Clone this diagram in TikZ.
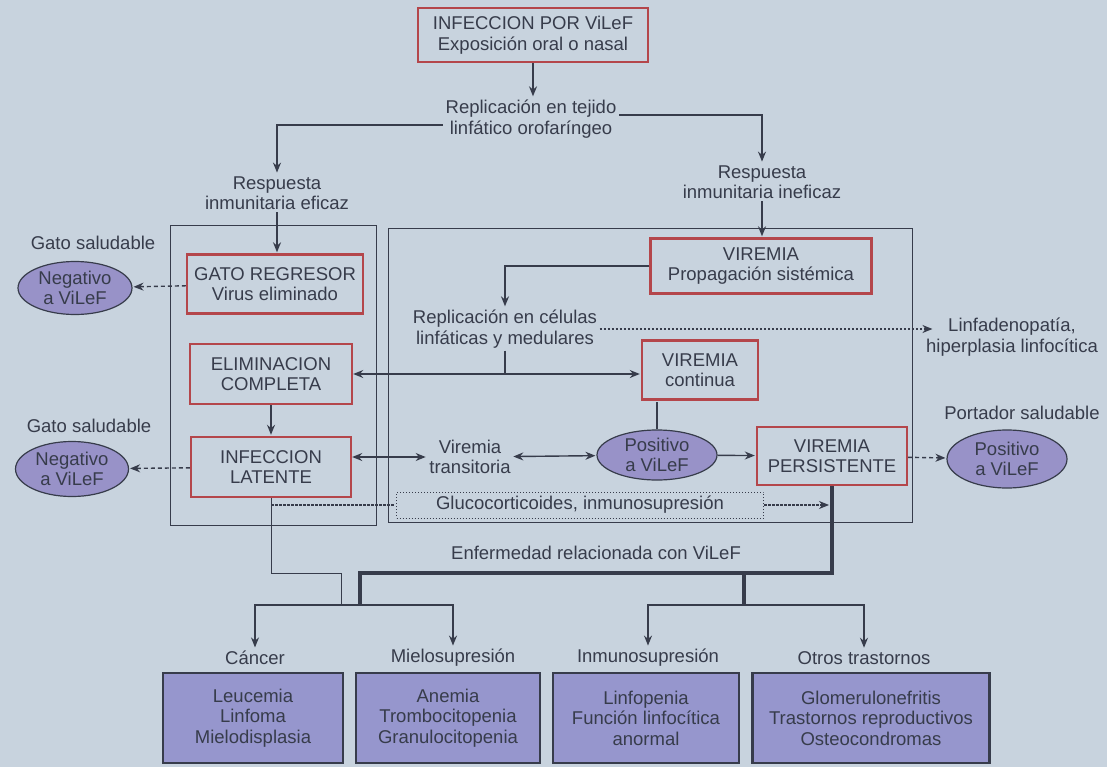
\documentclass[tikz,border=0pt]{standalone}
\usepackage{fontspec}
\setmainfont{Liberation Sans}
\usepackage{xcolor}
\usepackage{tikz}
\usetikzlibrary{arrows.meta, positioning, shapes.geometric}

\definecolor{paper}{RGB}{200,211,222}
\definecolor{ink}{RGB}{55,60,75}
\definecolor{boxred}{RGB}{180,70,75}
\definecolor{ovalfill}{RGB}{152,146,200}
\definecolor{disfill}{RGB}{150,150,205}

\begin{document}
\begin{tikzpicture}[->,>={Stealth[length=10pt,width=8pt]},shorten >=1pt,x=1pt,y=-1pt,
  line width=1.4pt, color=ink, font=\fontsize{18.5}{20.5}\selectfont,
  red box/.style={rectangle,draw=boxred,line width=2.4pt,align=center,inner sep=0pt},
  plain/.style={align=center,inner sep=2pt},
  oval/.style={ellipse,draw=ink,line width=1.2pt,fill=ovalfill,align=center,inner sep=0pt},
  dis box/.style={rectangle,draw=ink,line width=2.6pt,fill=disfill,align=center,inner sep=0pt,minimum height=90pt},
  panel/.style={-,line width=1pt},
  dash link/.style={dash pattern=on 4pt off 3pt},
  dot link/.style={dash pattern=on 2.5pt off 1.5pt,line width=1.2pt},
  thin link/.style={-,line width=1pt},
  heavy/.style={-,line width=3.6pt}]

  \useasboundingbox (0,0) rectangle (1107,767);
  \fill[paper] (0,0) rectangle (1107,767);

  \draw[panel] (170,226) rectangle (376,525);
  \draw[panel] (388,229) rectangle (912,522);

  \node[red box, minimum width=230, minimum height=54] (infec) at (533,35) {INFECCION POR ViLeF\\Exposición oral o nasal};
  \node[plain] (tejido) at (531,119) {Replicación en tejido\\linfático orofaríngeo};
  \node[plain] (eficaz) at (277,193) {Respuesta\\inmunitaria eficaz};
  \node[plain] (ineficaz) at (762,182) {Respuesta\\inmunitaria ineficaz};

  \node[red box, minimum width=176, minimum height=59] (regresor) at (275,284) {GATO REGRESOR\\Virus eliminado};
  \node[plain] (sanoA) at (93,243) {Gato saludable};
  \node[oval, minimum width=114, minimum height=53] (negA) at (75,288) {Negativo\\a ViLeF};
  \node[red box, minimum width=221, minimum height=55] (viremia) at (761,266) {VIREMIA\\Propagación sistémica};
  \node[plain] (celulas) at (505,329) {Replicación en células\\linfáticas y medulares};
  \node[plain] (linfa) at (1012,337) {Linfadenopatía,\\hiperplasia linfocítica};

  \node[red box, minimum width=162, minimum height=60] (completa) at (271,374) {ELIMINACION\\COMPLETA};
  \node[red box, minimum width=116, minimum height=59] (continua) at (700,370) {VIREMIA\\continua};

  \node[plain] (sanoB) at (89,426) {Gato saludable};
  \node[oval, minimum width=113, minimum height=55] (negB) at (72,469) {Negativo\\a ViLeF};
  \node[red box, minimum width=160, minimum height=60] (latente) at (271,467) {INFECCION\\LATENTE};
  \node[plain] (transit) at (470,457) {Viremia\\transitoria};
  \node[oval, minimum width=120, minimum height=50] (posA) at (657,455) {Positivo\\a ViLeF};
  \node[red box, minimum width=150, minimum height=58] (persist) at (832,456) {VIREMIA\\PERSISTENTE};
  \node[plain] (portador) at (1022,413) {Portador saludable};
  \node[oval, minimum width=120, minimum height=58] (posB) at (1007,459) {Positivo\\a ViLeF};
  \node[draw, dotted, line width=1pt, minimum width=367, minimum height=26, inner sep=0pt] (gluco) at (580,505) {Glucocorticoides, inmunosupresión};

  \node[plain] (enferm) at (596,553) {Enfermedad relacionada con ViLeF};
  \node[plain] (cancerlab) at (255,658) {Cáncer};
  \node[plain] (mielolab) at (453,658) {Mielosupresión};
  \node[plain] (inmunolab) at (648,658) {Inmunosupresión};
  \node[plain] (otroslab) at (864,658) {Otros trastornos};
  \node[dis box, minimum width=180] (cancer) at (253,718) {Leucemia\\Linfoma\\Mielodisplasia};
  \node[dis box, minimum width=184] (mielo) at (448,718) {Anemia\\Trombocitopenia\\Granulocitopenia};
  \node[dis box, minimum width=186] (inmuno) at (646,718) {Linfopenia\\Función linfocítica\\anormal};
  \node[dis box, minimum width=237] (otros) at (871,718) {Glomerulonefritis\\Trastornos reproductivos\\Osteocondromas};

  \coordinate (thinbend) at (341,573);
  \coordinate (heavybend) at (360,573);
  \coordinate (midtop) at (744,573);
  \coordinate (leftbar) at (350,605);
  \coordinate (rightbar) at (744,605);

  \draw (infec.south) -- (infec.south |- tejido.north);
  \draw ([yshift=-6pt]tejido.west) -| (eficaz);
  \draw ([yshift=4pt]tejido.east) -| (ineficaz);
  \draw (eficaz.south) -- (eficaz.south |- regresor.north);
  \draw (ineficaz.south) -- (ineficaz.south |- viremia.north);
  \draw (viremia.west) -| (celulas);
  \draw[dot link] (celulas.east) -- ([xshift=10pt]celulas.east -| linfa.west);
  \draw[<->] (completa.east) -- (completa.east -| continua.west);
  \draw[-] (celulas.south) -- (celulas.south |- completa.east);
  \draw (completa) -- (latente);
  \draw[<->] (latente.east |- transit.west) -- (transit.west);
  \draw[<->] (transit) -- (posA);
  \draw[-] (posA) -- (posA |- continua.south);
  \draw (posA) -- (persist);

  \path[dash link]
    (regresor) edge (negA)
    (latente) edge (negB)
    (persist) edge (posB);

  \draw[dot link, -] (latente.south |- gluco.west) -- (gluco.west);
  \draw[dot link, shorten >=3pt] (gluco.east) -- (gluco.east -| persist.south);

  \draw[thin link] (latente.south) |- (thinbend) -- (thinbend |- leftbar);
  \draw[heavy] (persist.south) |- (heavybend) -- (heavybend |- leftbar);
  \draw[heavy] (midtop) -- (rightbar);

  \draw (leftbar) -| (cancerlab);
  \draw (leftbar) -| (mielolab);
  \draw (rightbar) -| (inmunolab);
  \draw (rightbar) -| (otroslab);
\end{tikzpicture}
\end{document}
